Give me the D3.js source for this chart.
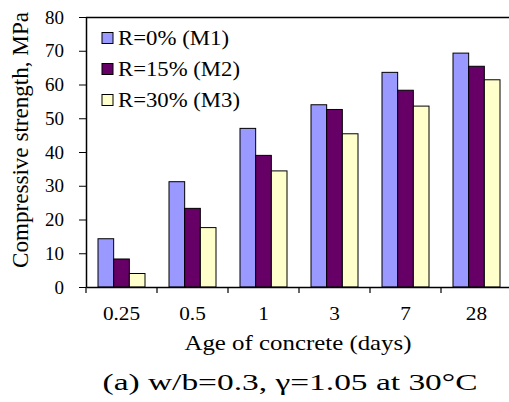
<!DOCTYPE html>
<html><head><meta charset="utf-8">
<script src="https://cdn.jsdelivr.net/npm/d3@7/dist/d3.min.js"></script>
<style>html,body{margin:0;padding:0;background:#fff;}svg{display:block;}text{font-family:"Liberation Serif","Times New Roman",serif;fill:#000;}</style>
</head><body>
<svg id="c" width="509" height="402"></svg>
<script>
const categories = ["0.25", "0.5", "1", "3", "7", "28"];
const seriesNames = ["R=0% (M1)", "R=15% (M2)", "R=30% (M3)"];
const seriesColors = ["#9999FF", "#660066", "#FFFFCC"];
const m1 = [14.3, 31.2, 47.0, 54.0, 63.6, 69.3];
const m2 = [8.3, 23.3, 39.0, 52.6, 58.3, 65.4];
const m3 = [4.0, 17.6, 34.4, 45.4, 53.6, 61.4];
const yTicks = [0, 10, 20, 30, 40, 50, 60, 70, 80];
const seriesValues = [m1, m2, m3];

const svg = d3.select("#c");
const pLeft = 86, pTop = 17, pBottom = 287, step = 71;
const pRight = pLeft + step * categories.length;

const x = d3.scaleBand().domain(categories).range([pLeft, pRight]).paddingInner(24/71).paddingOuter(12/71);
const x0 = d3.scaleBand().domain(categories).range([pLeft, pRight]);
const xs = d3.scaleBand().domain([0,1,2]).range([0, x.bandwidth()]);
const y = d3.scaleLinear().domain([0, 80]).range([pBottom, pTop]);

// bars
categories.forEach((c, i) => {
  seriesValues.forEach((vals, s) => {
    svg.append("rect")
      .attr("x", x(c) + xs(s))
      .attr("y", y(vals[i]))
      .attr("width", xs.bandwidth())
      .attr("height", y(0) - y(vals[i]))
      .attr("fill", seriesColors[s])
      .attr("stroke", "#000")
      .attr("stroke-width", 1);
  });
});

// top border
svg.append("line").attr("x1", pLeft).attr("x2", 509).attr("y1", pTop + 0.5).attr("y2", pTop + 0.5)
  .attr("stroke", "#000").attr("stroke-width", 1.5);

// y axis (line + ticks)
const yAxis = svg.append("g").attr("transform", `translate(${pLeft},0)`)
  .call(d3.axisLeft(y).tickValues(yTicks).tickSize(7).tickFormat("").tickSizeOuter(0));
yAxis.select(".domain").attr("stroke-width", 1.5);
// y tick labels
svg.append("g").selectAll("text").data(yTicks).join("text")
  .attr("x", 64).attr("y", d => y(d)).attr("dy", "0.35em")
  .attr("text-anchor", "end").style("font-size", "19px")
  .text(d => d);

// x axis
const xAxis = svg.append("g").attr("transform", `translate(0,${pBottom})`)
  .call(d3.axisBottom(x0).tickSize(0).tickPadding(0).tickSizeOuter(0));
xAxis.select(".domain").attr("stroke-width", 1.5);
xAxis.selectAll("text").style("font-size", "19px").attr("font-family", "Liberation Serif")
  .attr("y", 33).attr("dy", 0).attr("fill", "#000").attr("transform", "scale(1.12,1)")
  .attr("x", 0);
// category boundary ticks
svg.append("g").selectAll("line").data(d3.range(categories.length + 1)).join("line")
  .attr("x1", i => pLeft + i * step).attr("x2", i => pLeft + i * step)
  .attr("y1", pBottom).attr("y2", pBottom + 6).attr("stroke", "#000").attr("stroke-width", 1.2);

// axis titles
svg.append("text").attr("x", 298).attr("y", 350).attr("text-anchor", "middle")
  .style("font-size", "21px").attr("textLength", 227).attr("lengthAdjust", "spacingAndGlyphs")
  .text("Age of concrete (days)");
svg.append("text").attr("transform", "translate(28,140) rotate(-90)").attr("text-anchor", "middle")
  .style("font-size", "23px").attr("textLength", 256).attr("lengthAdjust", "spacingAndGlyphs")
  .text("Compressive strength, MPa");

// caption
svg.append("text").attr("x", 290).attr("y", 390).attr("text-anchor", "middle")
  .style("font-size", "23px").attr("textLength", 375).attr("lengthAdjust", "spacingAndGlyphs")
  .text("(a) w/b=0.3, \u03b3=1.05 at 30\u00b0C");

// legend
const legW = [111, 122, 122];
seriesNames.forEach((n, s) => {
  const cy = 38 + s * 31;
  svg.append("rect").attr("x", 102).attr("y", cy - 5.5).attr("width", 11).attr("height", 11)
    .attr("fill", seriesColors[s]).attr("stroke", "#000").attr("stroke-width", 1);
  svg.append("text").attr("x", 118).attr("y", cy + 7).style("font-size", "20px")
    .attr("textLength", legW[s]).attr("lengthAdjust", "spacingAndGlyphs").text(n);
});
</script>
</body></html>
